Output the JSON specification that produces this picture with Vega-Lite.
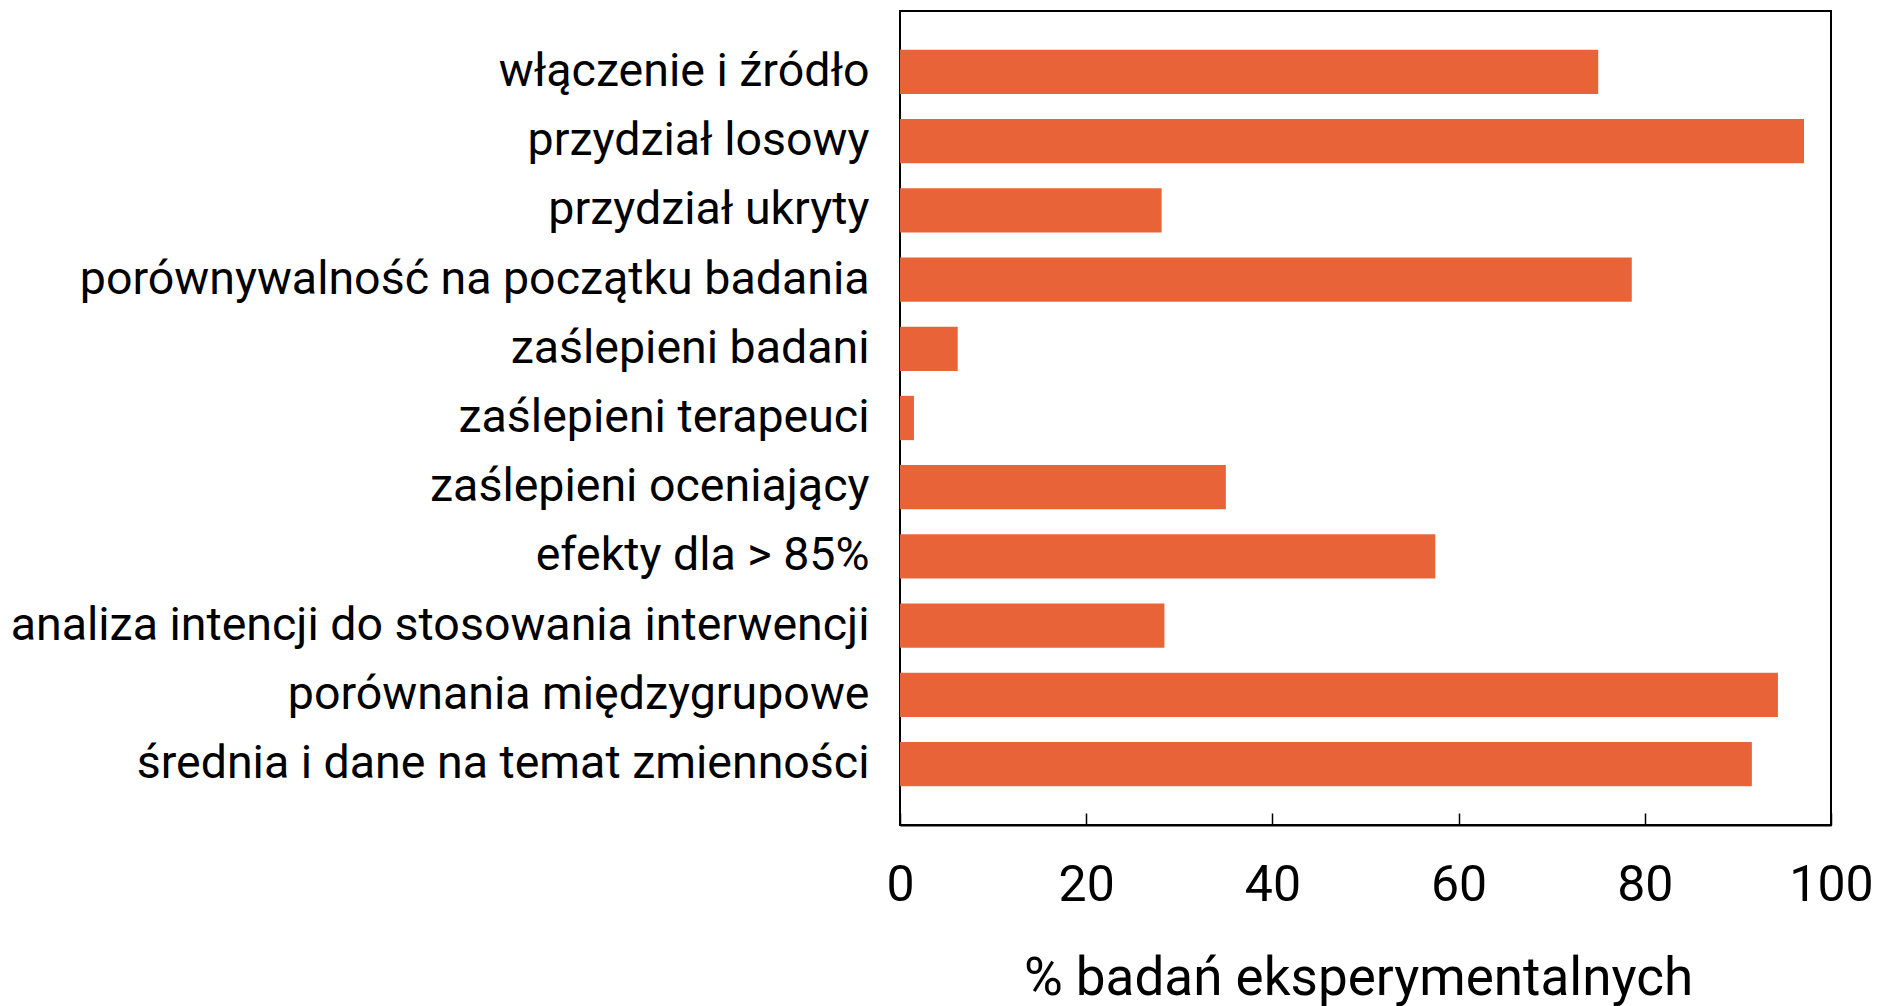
{
  "$schema": "https://vega.github.io/schema/vega-lite/v6.json",
  "width": 931,
  "height": 814,
  "autosize": {"type": "none"},
  "padding": {"left": 900, "top": 11, "right": 50, "bottom": 181},
  "background": "white",
  "config": {
    "font": "Roboto",
    "view": {"stroke": "black", "strokeWidth": 2},
    "axis": {"labelColor": "black", "titleColor": "black", "labelFont": "Roboto", "titleFont": "Roboto", "grid": false}
  },
  "data": {
    "values": [
      {"kryterium": "włączenie i źródło", "procent": 75.0},
      {"kryterium": "przydział losowy", "procent": 97.1},
      {"kryterium": "przydział ukryty", "procent": 28.1},
      {"kryterium": "porównywalność na początku badania", "procent": 78.6},
      {"kryterium": "zaślepieni badani", "procent": 6.2},
      {"kryterium": "zaślepieni terapeuci", "procent": 1.5},
      {"kryterium": "zaślepieni oceniający", "procent": 35.0},
      {"kryterium": "efekty dla > 85%", "procent": 57.5},
      {"kryterium": "analiza intencji do stosowania interwencji", "procent": 28.4},
      {"kryterium": "porównania międzygrupowe", "procent": 94.3},
      {"kryterium": "średnia i dane na temat zmienności", "procent": 91.5}
    ]
  },
  "mark": {"type": "bar", "color": "#E86438"},
  "encoding": {
    "y": {
      "field": "kryterium",
      "type": "nominal",
      "sort": null,
      "scale": {"paddingInner": 0.36, "paddingOuter": 0.56},
      "axis": {"title": null, "ticks": false, "domain": false, "labelFontSize": 46.5, "labelPadding": 31, "labelLimit": 1000}
    },
    "x": {
      "field": "procent",
      "type": "quantitative",
      "scale": {"domain": [0, 100], "nice": false},
      "axis": {
        "title": "% badań eksperymentalnych",
        "values": [0, 20, 40, 60, 80, 100],
        "tickSize": -12,
        "tickColor": "black",
        "tickWidth": 1.5,
        "domainColor": "black",
        "domainWidth": 2,
        "labelFontSize": 50,
        "labelPadding": 47,
        "labelFlush": false,
        "labelOverlap": false,
        "titleFontSize": 53,
        "titleFontWeight": "normal",
        "titlePadding": 42,
        "titleX": 458
      }
    }
  }
}
